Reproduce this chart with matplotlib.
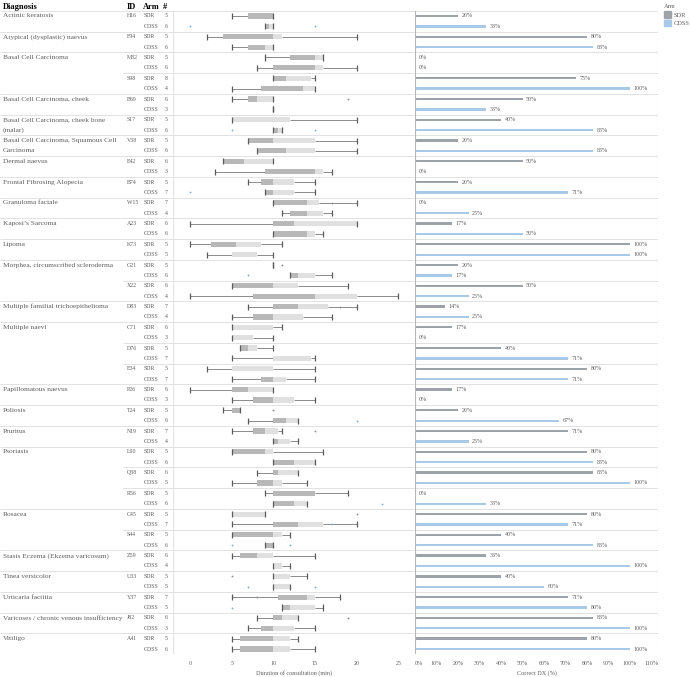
import matplotlib
matplotlib.use("Agg")
import matplotlib.pyplot as plt
from matplotlib.patches import Patch

plt.rcParams["font.family"] = ["Liberation Serif", "DejaVu Serif"]

# one entry per case (diagnosis + ID), each case has an SDR row and a CDSS row
diagnosis = [
    "Actinic keratosis", "Atypical (dysplastic) naevus", "Basal Cell Carcinoma",
    "Basal Cell Carcinoma", "Basal Cell Carcinoma, cheek",
    "Basal Cell Carcinoma, cheek bone\n(malar)",
    "Basal Cell Carcinoma, Squamous Cell\nCarcinoma", "Dermal naevus",
    "Frontal Fibrosing Alopecia", "Granuloma faciale", "Kaposi\u2019s Sarcoma", "Lipoma",
    "Morphea, circumscribed scleroderma", "Morphea, circumscribed scleroderma",
    "Multiple familial trichoepithelioma", "Multiple naevi", "Multiple naevi",
    "Multiple naevi", "Papillomatous naevus", "Poliosis", "Pruritus", "Psoriasis",
    "Psoriasis", "Psoriasis", "Rosacea", "Rosacea", "Stasis Eczema (Ekzema varicosum)",
    "Tinea versicolor", "Urticaria factitia", "Varicoses / chronic venous insufficiency",
    "Vitiligo",
]
case_ids = ["H16", "F94", "M32", "S98", "B69", "S17", "V58", "E42", "B74", "W15", "A23",
            "K73", "G21", "X22", "D83", "C71", "D76", "E34", "P26", "T24", "N19", "L90",
            "Q38", "R56", "C45", "S44", "Z59", "U33", "Y37", "J82", "A41"]
n_sdr = [5, 5, 5, 8, 6, 5, 5, 6, 5, 7, 6, 5, 5, 6, 7, 6, 5, 5, 6, 5, 7, 5, 6, 5, 5, 5,
         6, 5, 7, 6, 5]
n_cdss = [6, 6, 6, 4, 3, 6, 6, 3, 7, 4, 6, 5, 6, 4, 4, 3, 7, 7, 3, 6, 4, 6, 5, 6, 7, 6,
          4, 5, 5, 3, 6]
correct_sdr = [20, 80, 0, 75, 50, 40, 20, 50, 20, 0, 17, 100, 20, 50, 14, 17, 40, 80, 17,
               20, 71, 80, 83, 0, 80, 40, 33, 40, 71, 83, 80]
correct_cdss = [33, 83, 0, 100, 33, 83, 83, 0, 71, 25, 50, 100, 17, 25, 25, 0, 71, 71, 0,
                67, 25, 83, 100, 33, 71, 83, 100, 60, 80, 100, 100]

# consultation duration (min): whisker low, Q1, median, Q3, whisker high
box_sdr = [(5, 7, 10, 10, 10), (2, 4, 10, 11, 20), (9, 12, 15, 16, 16),
           (10, 10, 11.5, 14.5, 15), (5, 7, 8, 10, 10), (5, 5, 5, 12, 20),
           (7, 7, 10, 15, 20), (4, 4, 6.5, 10, 10), (7, 8.5, 10, 12.5, 15),
           (10, 10, 14, 15.5, 20), (0, 10, 12.5, 20, 20), (0, 2.5, 5.5, 8.5, 11),
           (10, 10, 10, 10, 10), (5, 5, 10, 13, 19), (7, 10, 13, 16.5, 20),
           (5, 5, 5, 10, 11), (6, 6, 7, 8, 10), (2, 5, 5, 10, 15), (0, 5, 7, 10, 10),
           (4, 5, 6, 6, 6), (5, 7.5, 9, 10.5, 11), (5, 5, 9, 10, 16),
           (8, 10, 10.5, 13, 13), (9, 10, 15, 15, 19), (5, 5, 5, 9, 9),
           (5, 5, 10, 11, 12), (5, 6, 8, 10, 15), (10, 10, 10, 12, 14),
           (5, 10.5, 14, 15, 18), (8, 10, 11, 13, 13), (5, 6, 10, 12, 13)]
box_cdss = [(9, 9, 9.5, 10, 10), (5, 7, 9, 10, 10), (8, 10, 15, 16, 20),
            (5, 8.5, 13.5, 15, 15), (10, 10, 10, 10, 10), (10, 10, 10.5, 11, 11),
            (8, 8, 11.5, 15, 20), (3, 9, 15, 16, 17), (9, 9, 10, 12.5, 15),
            (11, 12, 14, 16, 17), (10, 10, 14, 15, 16), (2, 5, 5, 8, 10),
            (12, 12, 13, 15, 17), (0, 7.5, 15, 20, 25), (5, 7.5, 10, 13.5, 17),
            (5, 5, 5, 7.5, 10), (5, 10, 10, 14.5, 15), (5, 8.5, 10, 11.5, 15),
            (5, 7.5, 10, 12.5, 15), (7, 10, 11.5, 13, 13), (10, 10, 10.5, 12, 13),
            (10, 10, 12.5, 15, 15), (5, 8, 10, 11, 14), (10, 10, 12.5, 14, 14),
            (5, 10, 13, 16, 20), (9, 9, 10, 10, 10), (10, 10, 10, 11, 12),
            (10, 10, 10, 12, 12), (11, 11, 12, 15, 16), (7, 8.5, 10, 12.5, 15),
            (5, 6, 10, 12, 15)]
outliers_sdr = [[], [], [], [], [19], [], [], [], [], [17], [], [], [11], [], [18], [],
                [], [], [], [10], [15], [], [], [], [20], [], [], [5], [8], [19], []]
outliers_cdss = [[0, 15], [], [], [], [], [5, 15], [], [], [0], [], [], [], [7], [], [],
                 [], [], [], [], [20], [], [], [], [23], [17], [5, 12], [], [7, 15], [5],
                 [], []]

SDR_BAR = "#9ea3aa"
CDSS_BAR = "#a8c9e8"
BOX_DARK = "#b8b8b8"
BOX_LIGHT = "#e0e0e0"
GRID = "#e2e2e2"
TXT = "#5f5f5f"

W, H = 690, 677
fig = plt.figure(figsize=(W / 100, H / 100), dpi=100)
top_px, bot_px = 10.8, 654.2
bottom = (H - bot_px) / H
height = (bot_px - top_px) / H
ax_t = fig.add_axes([0, bottom, 173 / W, height])
ax_b = fig.add_axes([173 / W, bottom, 242 / W, height])
ax_c = fig.add_axes([415 / W, bottom, 243 / W, height])

nrows = 2 * len(case_ids)
for ax in (ax_t, ax_b, ax_c):
    ax.set_ylim(nrows, 0)
    ax.set_yticks([])
    for s in ax.spines.values():
        s.set_visible(False)
ax_t.set_xlim(0, 173)
ax_t.set_xticks([])
ax_b.set_xlim(-2.04, 27.0)
ax_c.set_xlim(0, 113)

# ---- table columns ----
prev = None
for k, cid in enumerate(case_ids):
    y0 = 2 * k + 0.5
    if diagnosis[k] != prev:
        for j, line in enumerate(diagnosis[k].split("\n")):
            ax_t.text(3, y0 + j, line, fontsize=5.3, color=TXT, va="center", ha="left")
        line_start = 0
    else:
        line_start = 123
    prev = diagnosis[k]
    ax_t.text(127, y0, cid, fontsize=4.2, color=TXT, va="center")
    ax_t.text(144, y0, "SDR", fontsize=4.2, color=TXT, va="center")
    ax_t.text(144, y0 + 1, "CDSS", fontsize=4.2, color=TXT, va="center")
    ax_t.text(166.5, y0, str(n_sdr[k]), fontsize=4.2, color=TXT, va="center", ha="center")
    ax_t.text(166.5, y0 + 1, str(n_cdss[k]), fontsize=4.2, color=TXT, va="center",
              ha="center")
    # separator above this case
    ax_t.hlines(2 * k, line_start, 173, color=GRID, lw=0.7)
    ax_b.axhline(2 * k, color=GRID, lw=0.7)
    ax_c.axhline(2 * k, color=GRID, lw=0.7)
for ax in (ax_t, ax_b, ax_c):
    ax.axhline(nrows, color=GRID, lw=0.7)

fig.text(3 / W, 1 - 7 / H, "Diagnosis", fontsize=6, fontweight="bold", va="center")
fig.text(127 / W, 1 - 7 / H, "ID", fontsize=6, fontweight="bold", va="center")
fig.text(143 / W, 1 - 7 / H, "Arm", fontsize=6, fontweight="bold", va="center")
fig.text(163 / W, 1 - 7 / H, "#", fontsize=6, fontweight="bold", va="center")

# ---- box plots ----
for k in range(len(case_ids)):
    for arm, (stats, outs, dot) in enumerate([(box_sdr[k], outliers_sdr[k], "#8f8f8f"),
                                              (box_cdss[k], outliers_cdss[k], "#7eaad6")]):
        y = 2 * k + arm + 0.5
        lo, q1, med, q3, hi = stats
        ax_b.hlines(y, lo, q1, color="#8a8a8a", lw=0.7, zorder=2)
        ax_b.hlines(y, q3, hi, color="#8a8a8a", lw=0.7, zorder=2)
        ax_b.barh(y, med - q1, left=q1, height=0.5, color=BOX_DARK, zorder=3)
        ax_b.barh(y, q3 - med, left=med, height=0.5, color=BOX_LIGHT, zorder=3)
        ax_b.vlines([lo, hi], y - 0.29, y + 0.29, color="#5a5a5a", lw=0.9, zorder=4)
        if outs:
            ax_b.scatter(outs, [y] * len(outs), s=1.8, color=dot, zorder=5, lw=0)
ax_b.axvline(-2.04, color=GRID, lw=0.8)
ax_b.set_xticks(range(0, 30, 5))
ax_b.tick_params(axis="x", length=0, labelsize=4.3, labelcolor=TXT, pad=5)
ax_b.set_xlabel("Duration of consultation (min)", fontsize=4.4, color=TXT, labelpad=3)

# ---- correct diagnosis bars ----
for k in range(len(case_ids)):
    for arm, (val, col) in enumerate([(correct_sdr[k], SDR_BAR), (correct_cdss[k], CDSS_BAR)]):
        y = 2 * k + arm + 0.5
        ax_c.barh(y, val, height=0.22, color=col, zorder=3)
        ax_c.text(val + 1.6, y, f"{val}%", fontsize=4.3, color=TXT, va="center")
ax_c.axvline(0, color="#b5b5b5", lw=0.8, zorder=4)
ax_c.axvline(113, color=GRID, lw=0.8)
ax_c.set_xticks(range(0, 120, 10))
ax_c.set_xticklabels([f"{v}%" for v in range(0, 120, 10)])
ax_c.get_xticklabels()[0].set_ha("left")
ax_c.tick_params(axis="x", length=0, labelsize=4.3, labelcolor=TXT, pad=5)
ax_c.set_xlabel("Correct DX (%)", fontsize=4.4, color=TXT, labelpad=3)

handles = [Patch(color=SDR_BAR), Patch(color=CDSS_BAR)]
leg = fig.legend(handles, ["SDR", "CDSS"], title="Arm", loc="upper left",
                 bbox_to_anchor=(660 / W, 1.0), frameon=False, fontsize=4.6,
                 title_fontsize=4.6, handlelength=1.1, handleheight=1.1,
                 handletextpad=0.5, labelspacing=0.4, borderaxespad=0.2)
leg._legend_box.align = "left"
for t in leg.get_texts():
    t.set_color(TXT)
leg.get_title().set_color(TXT)

fig.savefig("out.png", dpi=100)
